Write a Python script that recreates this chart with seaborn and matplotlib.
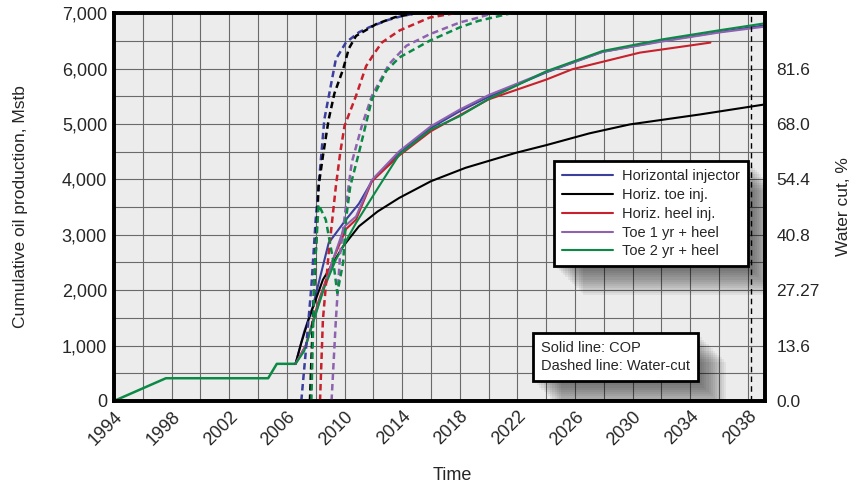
import numpy as np
import pandas as pd
import matplotlib
matplotlib.use("Agg")
import matplotlib.pyplot as plt
import seaborn as sns
from matplotlib.patches import Rectangle
from matplotlib.transforms import offset_copy
from matplotlib.ticker import FuncFormatter, MultipleLocator

# cumulative oil production (Mstb), solid lines
hist_t = [1994.0, 1997.6, 2004.7, 2005.3, 2006.6]
hist_v = [0, 410, 410, 670, 670]

cases = ["Horizontal injector", "Horiz. toe inj.", "Horiz. heel inj.",
         "Toe 1 yr + heel", "Toe 2 yr + heel"]
colors = ["#3b3f9e", "#000000", "#c8202c", "#8e62ae", "#0b8a45"]

cop_t = {
    "Horizontal injector": [2006.6, 2007.2, 2007.8, 2008.9, 2010.1, 2011.0, 2011.9, 2013.8, 2016.0,
                            2018.0, 2020.0, 2024.0, 2027.9, 2032.1, 2036.0, 2039.2],
    "Horiz. toe inj.": [2006.6, 2007.0, 2007.5, 2008.5, 2009.9, 2011.0, 2012.3, 2013.8, 2016.0,
                        2018.4, 2021.9, 2024.0, 2027.0, 2029.8, 2034.7, 2039.2],
    "Horiz. heel inj.": [2006.6, 2007.3, 2008.2, 2009.2, 2010.1, 2010.8, 2011.9, 2013.8, 2016.0,
                         2020.0, 2024.0, 2025.8, 2030.5, 2035.4],
    "Toe 1 yr + heel": [2006.6, 2007.3, 2008.2, 2009.2, 2010.0, 2010.8, 2011.9, 2013.8, 2016.0,
                        2018.0, 2020.0, 2024.0, 2027.9, 2032.1, 2036.0, 2039.2],
    "Toe 2 yr + heel": [2006.6, 2007.2, 2007.8, 2008.6, 2009.4, 2010.8, 2012.4, 2013.8, 2016.0,
                        2018.0, 2020.0, 2024.0, 2027.9, 2032.1, 2036.0, 2039.2],
}
cop_v = {
    "Horizontal injector": [670, 1250, 1705, 2852, 3273, 3560, 3966, 4480, 4930,
                            5230, 5490, 5930, 6300, 6500, 6660, 6780],
    "Horiz. toe inj.": [670, 1050, 1465, 2188, 2790, 3152, 3420, 3665, 3966,
                        4208, 4479, 4617, 4830, 4991, 5172, 5353],
    "Horiz. heel inj.": [670, 1000, 1800, 2550, 3100, 3273, 3966, 4430, 4870,
                         5443, 5800, 5986, 6287, 6468],
    "Toe 1 yr + heel": [670, 980, 1750, 2550, 3150, 3330, 3990, 4508, 4960,
                        5260, 5520, 5940, 6300, 6490, 6650, 6757],
    "Toe 2 yr + heel": [670, 900, 1405, 2050, 2550, 3213, 3876, 4448, 4900,
                        5141, 5450, 5950, 6316, 6528, 6690, 6817],
}

# water cut (%), dashed lines
wc_t = {
    "Horizontal injector": [2007.0, 2007.3, 2007.7, 2008.0, 2008.4, 2008.6, 2009.0, 2009.4, 2010.1,
                            2011.0, 2011.7, 2013.0, 2014.0, 2015.0],
    "Horiz. toe inj.": [2007.6, 2007.8, 2008.0, 2008.2, 2008.5, 2008.9, 2009.3, 2009.9, 2010.3,
                        2010.8, 2012.2, 2013.5, 2015.0],
    "Horiz. heel inj.": [2008.3, 2008.5, 2008.9, 2009.4, 2009.7, 2010.0, 2010.8, 2011.5, 2012.1,
                         2012.6, 2013.8, 2015.9, 2018.0],
    "Toe 1 yr + heel": [2009.1, 2009.4, 2009.7, 2010.1, 2010.5, 2011.2, 2011.9, 2013.1, 2014.3,
                        2015.9, 2018.0, 2019.3, 2020.3],
    "Toe 2 yr + heel": [2007.7, 2007.9, 2008.2, 2008.7, 2009.2, 2009.5, 2009.9, 2010.1, 2010.4,
                        2011.0, 2011.9, 2012.9, 2013.8, 2015.9, 2018.0, 2019.3, 2021.6],
}
wc_v = {
    "Horizontal injector": [0, 11.7, 28.1, 44.5, 60.9, 69.1, 76.5, 83.9, 88.0,
                            90.5, 91.7, 93.5, 94.5, 95.2],
    "Horiz. toe inj.": [0, 19.9, 36.3, 52.7, 60.1, 69.1, 75.5, 81.4, 86.5,
                        89.6, 92.5, 94.2, 95.2],
    "Horiz. heel inj.": [0, 19.9, 36.3, 52.7, 60.9, 67.5, 74.9, 82.2, 85.5,
                         88.0, 90.9, 94.1, 95.4],
    "Toe 1 yr + heel": [0, 19.9, 36.3, 47.8, 58.5, 67.5, 74.9, 82.7, 87.2,
                        90.0, 92.9, 94.1, 95.2],
    "Toe 2 yr + heel": [0, 30.0, 48.2, 44.5, 34.7, 26.5, 33.9, 44.5, 52.7,
                        60.9, 74.0, 81.0, 84.3, 88.4, 91.7, 93.3, 95.2],
}

wc_ticks = [0.0, 13.6, 27.27, 40.8, 54.4, 68.0, 81.6]
wc_labels = ["0.0", "13.6", "27.27", "40.8", "54.4", "68.0", "81.6"]
year_ticks = list(range(1994, 2039, 4))
cutoff_year = 2038.2

sns.set_style("white")
plt.rcParams["font.family"] = ["Liberation Sans", "DejaVu Sans"]

fig = plt.figure(figsize=(8.54, 4.86), dpi=100)
ax = fig.add_axes([0.1335, 0.175, 0.7625, 0.798])
ax.set_facecolor("#ececec")
ax2 = ax.twinx()

# solid COP lines
sns.lineplot(x=hist_t, y=hist_v, ax=ax, color=colors[4], linewidth=1.8,
             estimator=None, sort=False)
for name, col in zip(cases, colors):
    sns.lineplot(x=cop_t[name], y=cop_v[name], ax=ax, color=col, linewidth=1.8,
                 estimator=None, sort=False, label=name)

# dashed water cut lines
for name, col in zip(cases, colors):
    ln = sns.lineplot(x=wc_t[name], y=wc_v[name], ax=ax2, color=col, linewidth=1.8,
                      estimator=None, sort=False)
    ln.lines[-1].set_dashes((2.6, 1.6))

ax.axvline(cutoff_year, color="black", linewidth=1.0, linestyle=(0, (4, 3)))

ax.set_xlim(1994, 2039.2)
ax.set_ylim(0, 7000)
ax2.set_ylim(0, 95.2)

ax.xaxis.set_minor_locator(MultipleLocator(2))
ax.yaxis.set_major_locator(MultipleLocator(1000))
ax.yaxis.set_minor_locator(MultipleLocator(500))
ax.set_xticks(year_ticks)
ax.set_xticklabels([str(y) for y in year_ticks], rotation=45, ha="right",
                   rotation_mode="anchor", fontsize=13)
ax.yaxis.set_major_formatter(FuncFormatter(lambda v, p: f"{int(v):,}"))
ax.tick_params(axis="y", labelsize=13, length=0, pad=5)
ax.tick_params(axis="x", length=0, pad=5)
ax.tick_params(which="minor", length=0)
ax.grid(True, which="both", color="#6a6a6a", linewidth=0.8)
ax.set_axisbelow(True)

ax2.set_yticks(wc_ticks)
ax2.set_yticklabels(wc_labels)
ax2.tick_params(axis="y", labelsize=12.5, length=0, pad=8)

ax.set_xlabel("Time", fontsize=13)
ax.xaxis.set_label_coords(0.52, -0.17)
ax.set_ylabel("Cumulative oil production, Mstb", fontsize=12.5, va="center")
ax.yaxis.set_label_coords(-0.143, 0.5)
ax2.set_ylabel("Water cut, %", fontsize=12.5, va="center")
ax2.yaxis.set_label_coords(1.121, 0.5)

for a in (ax, ax2):
    for s in a.spines.values():
        s.set_linewidth(2.6)
        s.set_color("black")

handles, labels = ax.get_legend_handles_labels()
ax.get_legend().remove()
for h in handles:
    h.set_linewidth(1.5)
leg = ax2.legend(handles, labels, loc="upper right", bbox_to_anchor=(0.985, 0.637),
                 prop={"size": 10.5}, handlelength=3.5,
                 frameon=True, fancybox=False, edgecolor="black", framealpha=1,
                 borderpad=0.55, labelspacing=0.33, handletextpad=0.6)
leg.get_frame().set_linewidth(2.0)
leg.set_zorder(20)

note = ax2.text(0.655, 0.08, "Solid line: COP\nDashed line: Water-cut",
                transform=ax2.transAxes, fontsize=10.5,
                linespacing=1.35, zorder=20,
                bbox=dict(boxstyle="square,pad=0.55", facecolor="white",
                          edgecolor="black", linewidth=2.0))

# soft drop shadows behind the boxes
fig.canvas.draw()
inv = ax2.transAxes.inverted()
for artist in (leg, note):
    bb = artist.get_window_extent() if artist is leg else note.get_bbox_patch().get_window_extent()
    (x0, y0), (x1, y1) = inv.transform([[bb.x0, bb.y0], [bb.x1, bb.y1]])
    for k in range(1, 14):
        tr = offset_copy(ax2.transAxes, fig=fig, x=k * 2.2, y=-k * 2.2, units="dots")
        ax2.add_patch(Rectangle((x0, y0), x1 - x0, y1 - y0, transform=tr,
                                facecolor="black", edgecolor="none",
                                alpha=0.05, zorder=15))

fig.savefig("out.png", dpi=100)
